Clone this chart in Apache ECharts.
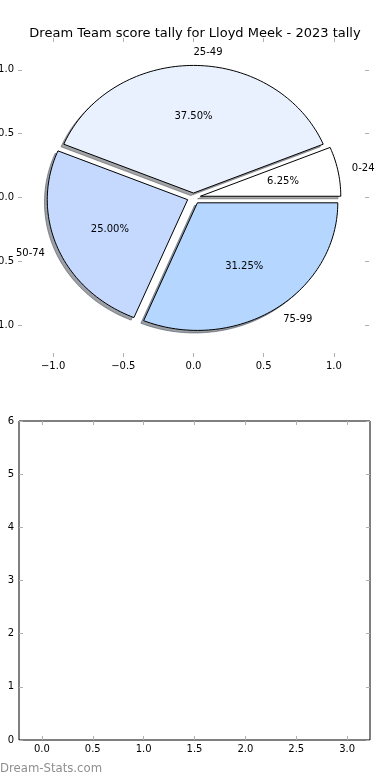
<!DOCTYPE html>
<html><head><meta charset="utf-8">
<script src="https://cdn.jsdelivr.net/npm/echarts@6/dist/echarts.min.js"></script>
<style>html,body{margin:0;padding:0;background:#fff}#c{width:390px;height:780px}</style>
</head><body><div id="c"></div>
<script>
const chartTitle = 'Dream Team score tally for Lloyd Meek - 2023 tally';
const categories = ['0-24', '25-49', '50-74', '75-99'];
const counts = [1, 6, 4, 5];
const pieTicks = [-1, -0.5, 0, 0.5, 1];
const emptyXTicks = [0, 0.5, 1, 1.5, 2, 2.5, 3];
const emptyYTicks = [0, 1, 2, 3, 4, 5, 6];

const sliceColors = ['#ffffff', '#e9f1ff', '#c5d9ff', '#b4d6ff'];
const explode = [0.05, 0.035, 0.045, 0.05];

const FONT = 'DejaVu Sans';
const total = counts.reduce((a, b) => a + b, 0);
const starts = [];
(function () { let acc = 0; counts.forEach(c => { starts.push(acc / total * 360); acc += c; }); })();

function fmt(v) {
  return v < 0 ? '\u2212' + Math.abs(v).toFixed(1) : v.toFixed(1);
}
function shade(hex) {
  const r = parseInt(hex.slice(1, 3), 16), g = parseInt(hex.slice(3, 5), 16), b = parseInt(hex.slice(5, 7), 16);
  return 'rgb(' + Math.round(r * 0.3) + ',' + Math.round(g * 0.3) + ',' + Math.round(b * 0.3) + ')';
}
function geom(i) {
  const a0 = starts[i], a1 = a0 + counts[i] / total * 360;
  const mid = (a0 + a1) / 2 * Math.PI / 180;
  return { a0, a1, mid, ox: explode[i] * Math.cos(mid), oy: explode[i] * Math.sin(mid) };
}
function wedge(i, api, dx, dy) {
  const g = geom(i);
  const ox = g.ox + dx, oy = g.oy + dy;
  const pts = [api.coord([ox, oy])];
  const n = Math.max(10, Math.ceil((g.a1 - g.a0) / 1.5));
  for (let k = 0; k <= n; k++) {
    const a = (g.a0 + (g.a1 - g.a0) * k / n) * Math.PI / 180;
    pts.push(api.coord([ox + Math.cos(a), oy + Math.sin(a)]));
  }
  return pts;
}

const tickStyle = { show: true, inside: true, length: 4, lineStyle: { color: '#b0b0b0', width: 1 } };
const labelStyle = { color: '#000', fontSize: 10, fontFamily: FONT };
const noLine = { show: false, onZero: false };

const option = {
  animation: false,
  backgroundColor: '#fff',
  title: {
    text: chartTitle, left: 'center', top: 22,
    textStyle: { color: '#000', fontSize: 13, fontWeight: 'normal', fontFamily: FONT }
  },
  grid: [
    { left: 18, top: 38, width: 351, height: 319, show: false, containLabel: false, outerBoundsMode: 'none' },
    { left: 19, top: 421, width: 351, height: 319, show: true, borderColor: '#000', borderWidth: 1,
      backgroundColor: '#fff', containLabel: false, outerBoundsMode: 'none' }
  ],
  xAxis: [
    { gridIndex: 0, type: 'value', min: -1.25, max: 1.25, position: 'bottom',
      axisLine: noLine, splitLine: { show: false },
      axisTick: Object.assign({ customValues: pieTicks }, tickStyle),
      axisLabel: Object.assign({ customValues: pieTicks, formatter: fmt, margin: 4 }, labelStyle) },
    { gridIndex: 0, type: 'value', min: -1.25, max: 1.25, position: 'top',
      axisLine: noLine, splitLine: { show: false },
      axisTick: Object.assign({ customValues: pieTicks }, tickStyle),
      axisLabel: { show: false } },
    { gridIndex: 1, type: 'value', min: -0.225, max: 3.225, position: 'bottom',
      axisLine: noLine, splitLine: { show: false },
      axisTick: Object.assign({ customValues: emptyXTicks }, tickStyle),
      axisLabel: Object.assign({ customValues: emptyXTicks, formatter: v => v.toFixed(1), margin: 4 }, labelStyle) },
    { gridIndex: 1, type: 'value', min: -0.225, max: 3.225, position: 'top',
      axisLine: noLine, splitLine: { show: false },
      axisTick: Object.assign({ customValues: emptyXTicks }, tickStyle),
      axisLabel: { show: false } }
  ],
  yAxis: [
    { gridIndex: 0, type: 'value', min: -1.25, max: 1.25, position: 'left',
      axisLine: noLine, splitLine: { show: false },
      axisTick: Object.assign({ customValues: pieTicks }, tickStyle),
      axisLabel: Object.assign({ customValues: pieTicks, formatter: fmt, margin: 4 }, labelStyle) },
    { gridIndex: 0, type: 'value', min: -1.25, max: 1.25, position: 'right',
      axisLine: noLine, splitLine: { show: false },
      axisTick: Object.assign({ customValues: pieTicks }, tickStyle),
      axisLabel: { show: false } },
    { gridIndex: 1, type: 'value', min: 0, max: 6, interval: 1, position: 'left',
      axisLine: noLine, splitLine: { show: false },
      axisTick: Object.assign({ customValues: emptyYTicks }, tickStyle),
      axisLabel: Object.assign({ customValues: emptyYTicks, formatter: v => String(v), margin: 5 }, labelStyle) },
    { gridIndex: 1, type: 'value', min: 0, max: 6, interval: 1, position: 'right',
      axisLine: noLine, splitLine: { show: false },
      axisTick: Object.assign({ customValues: emptyYTicks }, tickStyle),
      axisLabel: { show: false } }
  ],
  graphic: [
    { type: 'text', left: 0, top: 762,
      style: { text: 'Dream-Stats.com', fill: '#8f8f8f',
        font: '13px "DejaVu Sans Condensed", "Liberation Sans Narrow", "DejaVu Sans"' } }
  ],
  series: [
    {
      type: 'custom', name: 'shadow', xAxisIndex: 0, yAxisIndex: 0, z: 1, clip: false,
      data: counts.map((v, i) => [i, v]),
      renderItem: function (params, api) {
        const i = api.value(0);
        return { type: 'polygon', shape: { points: wedge(i, api, -0.02, -0.02) },
          style: { fill: shade(sliceColors[i]), stroke: shade(sliceColors[i]), lineWidth: 1, opacity: 0.5 } };
      }
    },
    {
      type: 'custom', name: 'pie', xAxisIndex: 0, yAxisIndex: 0, z: 2, clip: false,
      data: counts.map((v, i) => [i, v]),
      renderItem: function (params, api) {
        const i = api.value(0);
        const g = geom(i);
        const cx = Math.cos(g.mid), cy = Math.sin(g.mid);
        const lp = api.coord([g.ox + 1.1 * cx, g.oy + 1.1 * cy]);
        const pp = api.coord([g.ox + 0.6 * cx, g.oy + 0.6 * cy]);
        const pct = (api.value(1) / total * 100).toFixed(2) + '%';
        return {
          type: 'group',
          children: [
            { type: 'polygon', shape: { points: wedge(i, api, 0, 0) },
              style: { fill: sliceColors[i], stroke: '#000', lineWidth: 1 } },
            { type: 'text', x: lp[0], y: lp[1],
              style: { text: categories[i], fill: '#000', font: '10px "DejaVu Sans"',
                align: cx > 0 ? 'left' : 'right', verticalAlign: 'middle' } },
            { type: 'text', x: pp[0], y: pp[1],
              style: { text: pct, fill: '#000', font: '10px "DejaVu Sans"', align: 'center', verticalAlign: 'middle' } }
          ]
        };
      }
    },
    { type: 'line', xAxisIndex: 2, yAxisIndex: 2, data: [] }
  ]
};
const chart = echarts.init(document.getElementById('c'), null, { renderer: 'canvas' });
chart.setOption(option);
</script>
</body></html>
